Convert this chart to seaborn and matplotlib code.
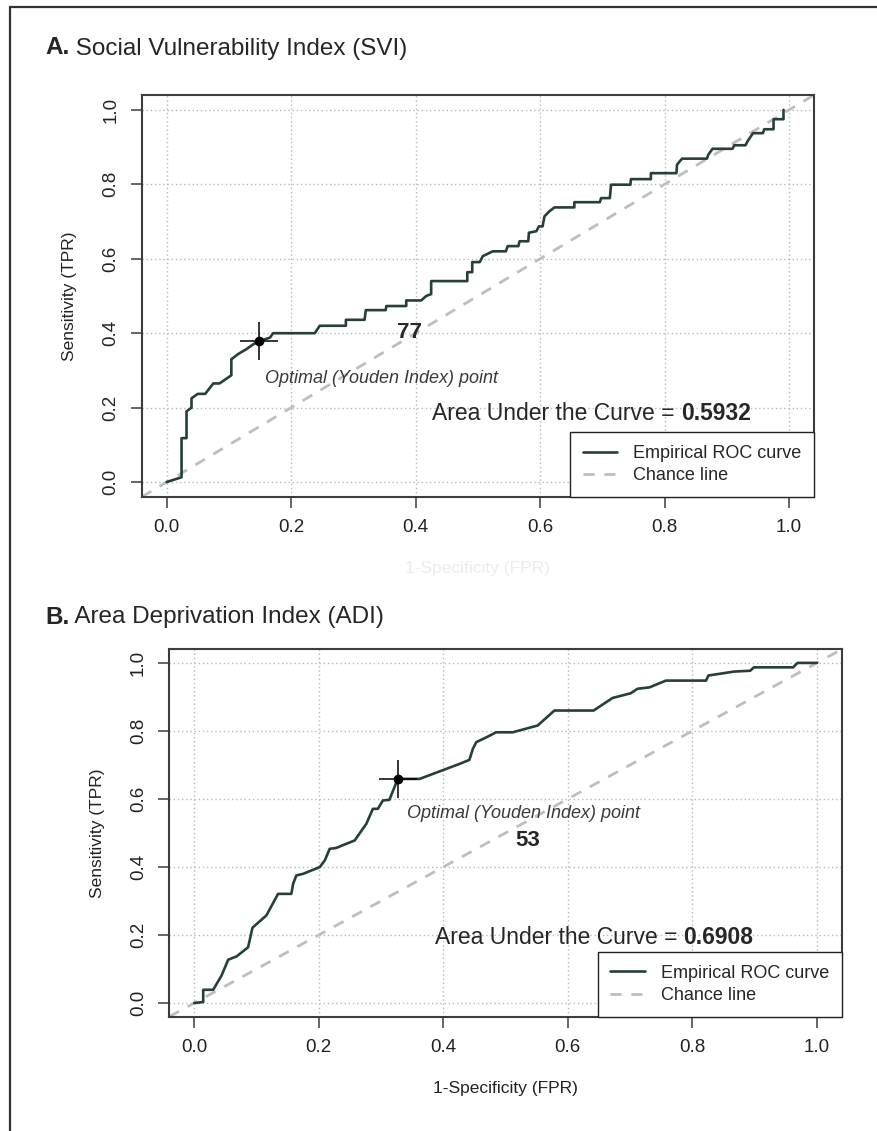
import numpy as np
import matplotlib
matplotlib.use("Agg")
import matplotlib.pyplot as plt
import seaborn as sns
from matplotlib.lines import Line2D
from matplotlib.text import Annotation

# ROC step vertices
svi_fpr = [0, 0.024, 0.024, 0.032, 0.032, 0.04, 0.04, 0.05, 0.062, 0.075, 0.085, 0.104, 0.104,
           0.115, 0.128, 0.139, 0.149, 0.166, 0.171, 0.238, 0.246, 0.288, 0.288, 0.318, 0.32,
           0.352, 0.353, 0.385, 0.385, 0.409, 0.417, 0.425, 0.425, 0.483, 0.483, 0.491, 0.491,
           0.503, 0.508, 0.524, 0.545, 0.548, 0.565, 0.567, 0.581, 0.582, 0.594, 0.598, 0.604,
           0.607, 0.615, 0.623, 0.655, 0.655, 0.696, 0.698, 0.712, 0.714, 0.745, 0.746, 0.778,
           0.778, 0.819, 0.82, 0.828, 0.868, 0.87, 0.877, 0.909, 0.912, 0.93, 0.933, 0.942,
           0.958, 0.96, 0.975, 0.975, 0.991, 0.991]
svi_tpr = [0, 0.013, 0.118, 0.118, 0.19, 0.2, 0.225, 0.237, 0.237, 0.265, 0.265, 0.287, 0.33,
           0.344, 0.357, 0.37, 0.379, 0.388, 0.4, 0.4, 0.42, 0.42, 0.436, 0.436, 0.462,
           0.462, 0.473, 0.473, 0.488, 0.488, 0.5, 0.505, 0.54, 0.54, 0.564, 0.564, 0.591,
           0.591, 0.607, 0.62, 0.62, 0.634, 0.634, 0.647, 0.647, 0.67, 0.674, 0.687, 0.687,
           0.714, 0.7275, 0.738, 0.738, 0.752, 0.752, 0.763, 0.763, 0.799, 0.799, 0.814, 0.814,
           0.83, 0.83, 0.853, 0.869, 0.869, 0.879, 0.8955, 0.8955, 0.905, 0.905, 0.915, 0.9375,
           0.9375, 0.948, 0.948, 0.975, 0.975, 1.0]

adi_fpr = [0, 0.0145, 0.0145, 0.0305, 0.044, 0.0546, 0.068, 0.0866, 0.0936, 0.116, 0.1347,
           0.156, 0.159, 0.164, 0.175, 0.2016, 0.21, 0.2176, 0.228, 0.2577, 0.2765, 0.287,
           0.295, 0.303, 0.3135, 0.327, 0.362, 0.426, 0.442, 0.4475, 0.453, 0.469, 0.485,
           0.5116, 0.5517, 0.5785, 0.6415, 0.672, 0.7015, 0.712, 0.731, 0.7577, 0.822, 0.826,
           0.867, 0.893, 0.899, 0.962, 0.969, 1.0]
adi_tpr = [0, 0.003, 0.039, 0.039, 0.081, 0.1275, 0.137, 0.164, 0.2215, 0.2577, 0.321,
           0.321, 0.351, 0.375, 0.38, 0.3996, 0.42, 0.4535, 0.456, 0.478, 0.527, 0.571,
           0.571, 0.5955, 0.5975, 0.659, 0.659, 0.703, 0.715, 0.747, 0.767, 0.781, 0.796,
           0.796, 0.816, 0.86, 0.86, 0.897, 0.911, 0.924, 0.928, 0.948, 0.948, 0.963,
           0.9745, 0.977, 0.987, 0.987, 1.0, 1.0]

youden = {"svi": (0.149, 0.379), "adi": (0.327, 0.659)}
auc = {"svi": "0.5932", "adi": "0.6908"}
cutoff = {"svi": "77", "adi": "53"}
titles = [("A.", " Social Vulnerability Index (SVI)"), ("B.", " Area Deprivation Index (ADI)")]
ticks = [0.0, 0.2, 0.4, 0.6, 0.8, 1.0]

sns.set_style("white")
plt.rcParams['font.family'] = ['Liberation Sans', 'DejaVu Sans']

curve_col = "#263f3c"
chance_col = "#bebebe"
frame_col = "#3c3c3c"

fig = plt.figure(figsize=(8.78, 11.31), dpi=100)
axA = fig.add_axes([0.1614, 0.5606, 0.7657, 0.3554])
axB = fig.add_axes([0.1928, 0.1011, 0.7659, 0.3248])


def roc_panel(ax, fpr, tpr, key, opt_xy, cut_xy, auc_xy, xlabel, xlabel_col):
    ax.axline((0, 0), (1, 1), color=chance_col, lw=2, ls=(0, (4, 3.5)), zorder=2)
    sns.lineplot(x=fpr, y=tpr, ax=ax, estimator=None, sort=False,
                 color=curve_col, lw=1.9, zorder=3)
    px, py = youden[key]
    ax.plot([px], [py], marker='+', ms=27, mew=1.1, color="black", zorder=4)
    ax.plot([px], [py], marker='o', ms=6, color="black", zorder=5)
    ax.text(opt_xy[0], opt_xy[1], "Optimal (Youden Index) point", style='italic',
            fontsize=13, color="#3a3a3a", ha='left', va='center')
    ax.text(cut_xy[0], cut_xy[1], cutoff[key], fontweight='bold', fontsize=16,
            ha='center', va='center')
    t1 = ax.text(auc_xy[0], auc_xy[1], "Area Under the Curve = ", fontsize=16.5,
                 ha='left', va='center')
    ax.annotate(auc[key], xy=(1, 0), xycoords=t1, fontsize=16.5, fontweight='bold',
                ha='left', va='bottom')

    ax.set_xlim(-0.04, 1.04)
    ax.set_ylim(-0.04, 1.04)
    ax.set_xticks(ticks)
    ax.set_yticks(ticks)
    ax.set_xticklabels([f"{t:.1f}" for t in ticks])
    ax.set_yticklabels([f"{t:.1f}" for t in ticks], rotation=90, va='center')
    ax.grid(True, color="#b8b8b8", ls=(0, (1, 2)), lw=1)
    ax.set_axisbelow(True)
    ax.tick_params(axis='both', direction='out', length=8, width=1.1, color=frame_col,
                   labelsize=13.5, colors="#222222", pad=8, bottom=True, left=True)
    for s in ax.spines.values():
        s.set_color(frame_col)
        s.set_linewidth(1.5)
    ax.set_ylabel("Sensitivity (TPR)", fontsize=12.5, labelpad=18, color="#222222")
    ax.set_xlabel(xlabel, fontsize=12.5, labelpad=18, color=xlabel_col)

    handles = [Line2D([], [], color=curve_col, lw=1.9),
               Line2D([], [], color=chance_col, lw=2, ls=(0, (4, 3.5)))]
    leg = ax.legend(handles, ["Empirical ROC curve", "Chance line"], loc='lower right',
                    bbox_to_anchor=(1, 0), borderaxespad=0, fancybox=False, framealpha=1,
                    edgecolor="#222222", fontsize=13, handlelength=1.9, handletextpad=0.9,
                    borderpad=0.7, labelspacing=0.3)
    leg.get_frame().set_linewidth(1.0)


roc_panel(axA, svi_fpr, svi_tpr, "svi", (0.158, 0.279), (0.39, 0.403), (0.426, 0.183),
          "1-Specificity (FPR)", "#ececec")
roc_panel(axB, adi_fpr, adi_tpr, "adi", (0.341, 0.558), (0.535, 0.478), (0.386, 0.194),
          "1-Specificity (FPR)", "#222222")

# panel headings: bold letter, then the plain name right after it
for (lead, rest), yc in zip(titles, [48, 617]):
    t = fig.text(45 / 878, 1 - yc / 1131, lead, fontsize=17.5, fontweight='bold',
                 ha='left', va='center')
    fig.add_artist(Annotation(rest, xy=(1, 0), xycoords=t, fontsize=17.5,
                              ha='left', va='bottom', annotation_clip=False))

# page border on the left and top
fig.add_artist(Line2D([10 / 878, 10 / 878], [0, 1 - 7 / 1131], color="#333333", lw=1.6,
                      transform=fig.transFigure))
fig.add_artist(Line2D([10 / 878, 1], [1 - 7 / 1131, 1 - 7 / 1131], color="#333333", lw=1.6,
                      transform=fig.transFigure))

fig.savefig("out.png", dpi=100)
